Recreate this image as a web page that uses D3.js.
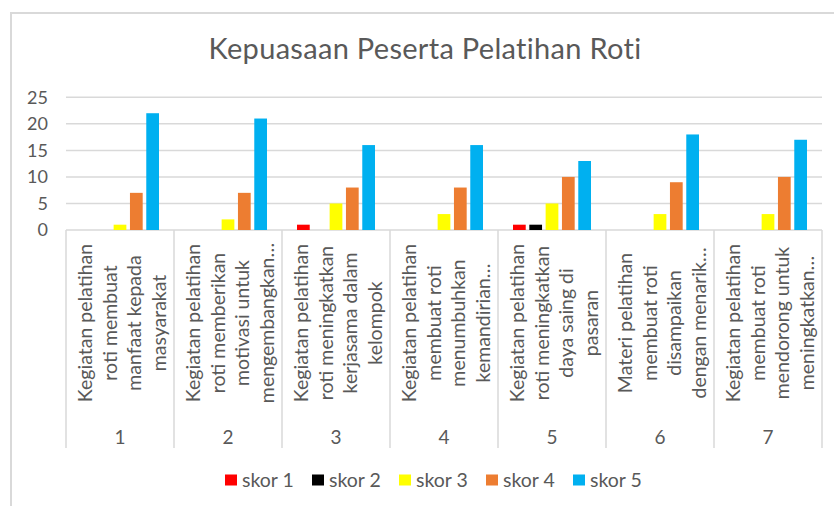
<!DOCTYPE html>
<html>
<head>
<meta charset="utf-8">
<script src="https://cdn.jsdelivr.net/npm/d3@7"></script>
<style>
body { margin:0; background:#fff; }
text { font-family: Lato, "Open Sans", sans-serif; fill:#595959; }
</style>
</head>
<body>
<div id="chart"></div>
<script>
var w=834, h=506

// data
var categories = ["1","2","3","4","5","6","7"];
var catLabels = [
  ["Kegiatan pelatihan","roti membuat","manfaat kepada","masyarakat"],
  ["Kegiatan pelatihan","roti memberikan","motivasi untuk","mengembangkan…"],
  ["Kegiatan pelatihan","roti meningkatkan","kerjasama dalam","kelompok"],
  ["Kegiatan pelatihan","membuat roti","menumbuhkan","kemandirian…"],
  ["Kegiatan pelatihan","roti meningkatkan","daya saing di","pasaran"],
  ["Materi pelatihan","membuat roti","disampaikan","dengan menarik…"],
  ["Kegiatan pelatihan","membuat roti","mendorong untuk","meningkatkan…"]
];
var seriesNames = ["skor 1","skor 2","skor 3","skor 4","skor 5"];
var skor1 = [0,0,1,0,1,0,0];
var skor2 = [0,0,0,0,1,0,0];
var skor3 = [1,2,5,3,5,3,3];
var skor4 = [7,7,8,8,10,9,10];
var skor5 = [22,21,16,16,13,18,17];
var yTicks = [0,5,10,15,20,25];
var colors = ["#FF0000","#000000","#FFFF00","#ED7D31","#00B0F0"];

var allSeries = [skor1,skor2,skor3,skor4,skor5];

var svg=d3.select("#chart")
.append("svg")
.attr("width",w)
.attr("height",h);

// chart border
svg.append("path")
.attr("d","M11 520 L11 13 L850 13")
.attr("fill","none")
.attr("stroke","#d9d9d9")
.attr("stroke-width",2);

// title
svg.append("text")
.attr("x",425)
.attr("y",59)
.attr("text-anchor","middle")
.style("font-size","29px")
.style("letter-spacing","0.3px")
.text("Kepuasaan Peserta Pelatihan Roti");

var x0 = d3.scaleBand().domain(categories).range([66,822]).padding(0);
var x1 = d3.scaleBand().domain(seriesNames).range([15,93]).paddingInner(0.22);
var y = d3.scaleLinear().domain([0,25]).range([230,97.3]);

// gridlines
svg.append("g")
.selectAll("line")
.data(yTicks)
.join("line")
.attr("x1",66)
.attr("x2",822)
.attr("y1",d=>y(d))
.attr("y2",d=>y(d))
.attr("stroke","#d9d9d9")
.attr("stroke-width",1.5);

// y labels
svg.append("g")
.selectAll("text")
.data(yTicks)
.join("text")
.attr("x",48)
.attr("y",d=>y(d))
.attr("dy","0.35em")
.attr("text-anchor","end")
.style("font-size","18px")
.text(d=>d);

// category separators
svg.append("g")
.selectAll("line")
.data(d3.range(categories.length+1))
.join("line")
.attr("x1",d=>66+d*x0.bandwidth())
.attr("x2",d=>66+d*x0.bandwidth())
.attr("y1",230)
.attr("y2",448)
.attr("stroke","#d9d9d9")
.attr("stroke-width",1.5);

// bars
var groups = svg.append("g")
.selectAll("g")
.data(categories)
.join("g")
.attr("transform",d=>"translate("+x0(d)+",0)");

groups.selectAll("rect")
.data((d,i)=>seriesNames.map((s,j)=>({s:s, v:allSeries[j][i], c:colors[j]})))
.join("rect")
.attr("x",d=>x1(d.s))
.attr("width",x1.bandwidth())
.attr("y",d=>y(d.v))
.attr("height",d=>y(0)-y(d.v))
.attr("fill",d=>d.c);

// rotated category text
groups.each(function(d,i){
  var g=d3.select(this);
  var bw=x0.bandwidth();
  catLabels[i].forEach(function(line,k){
    var lx=bw/2+2+(k-1.5)*24.5;
    g.append("text")
    .attr("transform","translate("+lx+",323) rotate(-90)")
    .attr("text-anchor","middle")
    .attr("dy","0.35em")
    .style("font-size","19.5px")
    .text(line);
  });
  g.append("text")
  .attr("x",bw/2)
  .attr("y",437)
  .attr("dy","0.35em")
  .attr("text-anchor","middle")
  .style("font-size","19px")
  .text(categories[i]);
});

// legend
var legend = svg.append("g")
.selectAll("g")
.data(seriesNames)
.join("g")
.attr("transform",(d,i)=>"translate("+(225+i*87)+",480)");

legend.append("rect")
.attr("x",0)
.attr("y",-5.5)
.attr("width",12)
.attr("height",11)
.attr("fill",(d,i)=>colors[i]);

legend.append("text")
.attr("x",17)
.attr("y",0)
.attr("dy","0.35em")
.style("font-size","19.5px")
.text(d=>d);
</script>
</body>
</html>
